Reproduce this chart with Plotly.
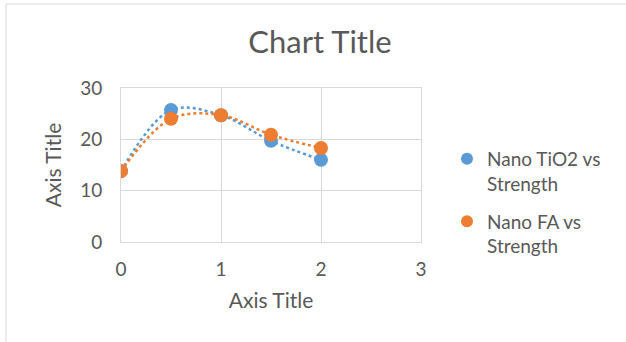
import plotly.graph_objects as go

x_vals = [0, 0.5, 1, 1.5, 2]
tio2_strength = [13.8, 25.7, 24.7, 19.7, 16.0]
fa_strength = [13.8, 24.0, 24.7, 20.9, 18.3]
series_names = ["Nano TiO2 vs<br>Strength", "Nano FA vs<br>Strength"]
colors = ["#5B9BD5", "#ED7D31"]

W, H = 626, 342
L, R, T, B = 121, 205, 88, 100
pw, ph = W - L - R, H - T - B

fig = go.Figure()
for ys, name, c in zip([tio2_strength, fa_strength], series_names, colors):
    fig.add_trace(go.Scatter(x=x_vals, y=ys, mode="lines", line=dict(color=c, width=2.5, dash="dot", shape="spline", smoothing=1.0),
                             showlegend=False, hoverinfo="skip"))
for i, (ys, name, c) in enumerate(zip([tio2_strength, fa_strength], series_names, colors)):
    fig.add_trace(go.Scatter(x=x_vals, y=ys, mode="markers", name=name, legendgroup=f"g{i}",
                             marker=dict(color=c, size=14)))

font = "Lato, 'Open Sans', sans-serif"
grid = "#d9d9d9"
txt = "#595959"

def px2x(p):
    return (p - L) / pw

def px2y(p):
    return (H - B - p) / ph

fig.update_layout(
    width=W, height=H,
    margin=dict(l=L, r=R, t=T, b=B),
    paper_bgcolor="white", plot_bgcolor="white",
    font=dict(family=font, color=txt, size=19),
    title=dict(text="Chart Title", x=(320) / W, xanchor="center", y=1 - 42 / H, yanchor="middle",
               font=dict(size=31, color=txt, family=font)),
    xaxis=dict(range=[0, 3], tickvals=[0, 1, 2, 3], showgrid=True, gridcolor=grid, gridwidth=1,
               showline=True, linecolor=grid, mirror=True, zeroline=False,
               ticks="outside", ticklen=10, tickcolor="rgba(0,0,0,0)",
               tickfont=dict(size=19, color=txt),
               title=dict(text="Axis Title", font=dict(size=21, color=txt), standoff=14)),
    yaxis=dict(range=[0, 30], tickvals=[0, 10, 20, 30], showgrid=True, gridcolor=grid, gridwidth=1,
               showline=True, linecolor=grid, mirror=True, zeroline=False,
               ticks="outside", ticklen=14, tickcolor="rgba(0,0,0,0)",
               tickfont=dict(size=19, color=txt),
               title=dict(text="Axis Title", font=dict(size=21, color=txt), standoff=12)),
    legend=dict(x=px2x(447), y=px2y(140), xanchor="left", yanchor="top", valign="top",
                font=dict(size=19, color=txt, family=font), itemsizing="constant",
                itemwidth=30, tracegroupgap=10, bgcolor="rgba(0,0,0,0)"),
    shapes=[dict(type="rect", xref="paper", yref="paper",
                 x0=px2x(6), x1=px2x(640), y0=px2y(360), y1=px2y(4),
                 line=dict(color="#d9d9d9", width=1), fillcolor="rgba(0,0,0,0)", layer="below")],
)

fig.write_html("out.html")
